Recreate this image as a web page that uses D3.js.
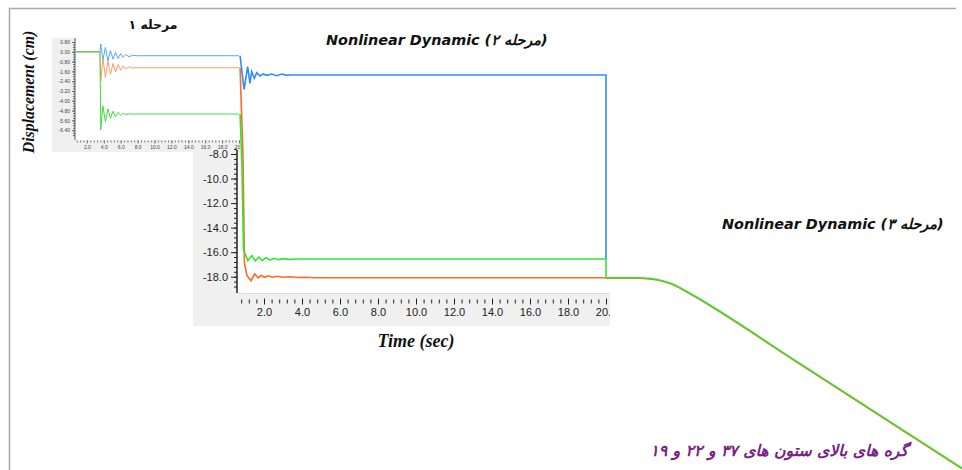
<!DOCTYPE html>
<html>
<head>
<meta charset="utf-8">
<script src="https://cdn.jsdelivr.net/npm/d3@7"></script>
<style>
  body { margin: 0; background: #fff; }
  svg { display: block; }
</style>
</head>
<body>
<div id="chart"></div>
<script>
// stage 1 (مرحله ۱) - time (s) and displacement (cm)
const t1 = [0, 3.55, 3.64, 3.89, 4.19, 4.49, 4.79, 5.09, 5.39, 5.69, 5.99, 6.29, 6.59, 6.99, 7.39, 7.89, 20.0];
const blue1 = [0, 0, 0.64, -0.7, 0.35, -0.75, 0.1, -0.6, -0.05, -0.55, -0.15, -0.45, -0.22, -0.4, -0.28, -0.32, -0.32];
const orange1 = [0, 0, -2.45, -0.5, -2.1, -0.75, -1.85, -0.95, -1.65, -1.05, -1.5, -1.15, -1.4, -1.22, -1.33, -1.3, -1.3];
const green1 = [0, 0, -6.38, -4.42, -5.7, -4.65, -5.45, -4.85, -5.3, -4.95, -5.2, -5.02, -5.13, -5.06, -5.09, -5.08, -5.08];

// stage 2 (Nonlinear Dynamic)
const tBlue2 = [0.74, 0.95, 1.14, 1.26, 1.35, 1.49, 1.62, 1.79, 1.96, 2.14, 2.41, 2.67, 2.94, 3.2, 3.37, 20.0, 20.0];
const blue2 = [0.0, -2.73, -0.885, -2.24, -1.29, -1.83, -1.37, -1.64, -1.48, -1.59, -1.48, -1.62, -1.48, -1.59, -1.56, -1.56, -16.56];
const tOrange2 = [0.74, 0.89, 0.97, 1.1, 1.31, 1.51, 1.69, 1.85, 2.03, 2.24, 2.45, 2.71, 3.02, 3.38, 3.8, 4.21, 4.63, 20.0];
const orange2 = [-0.97, -8, -16.9, -17.9, -18.33, -17.78, -18.1, -17.89, -18.05, -17.93, -18.04, -17.97, -18.05, -18.0, -18.06, -18.04, -18.08, -18.08];
const tGreen2 = [0.74, 0.84, 0.92, 1.15, 1.36, 1.54, 1.72, 1.91, 2.11, 2.31, 2.53, 2.76, 3.02, 3.33, 3.69, 20.0, 20.0];
const green2 = [-4.74, -9.0, -15.8, -16.7, -16.28, -16.72, -16.4, -16.68, -16.45, -16.64, -16.5, -16.61, -16.53, -16.59, -16.56, -16.56, -18.08];

// stage 3 (Nonlinear Dynamic)
const t3 = [0, 1.5, 2.3, 2.9, 3.45, 4.2, 9.8, 18.0];
const green3 = [-18.08, -18.09, -18.16, -18.35, -18.65, -19.31, -25.07, -33.6];
const orange3 = [-18.12, -18.13, -18.2, -18.39, -18.69, -19.36, -25.12, -33.65];

// tick labels
const y1Ticks = [0.8, 0, -0.8, -1.6, -2.4, -3.2, -4.0, -4.8, -5.6, -6.4];
const x1Ticks = [2, 4, 6, 8, 10, 12, 14, 16, 18, 20];
const y2Ticks = [-8, -10, -12, -14, -16, -18];
const x2Ticks = [2, 4, 6, 8, 10, 12, 14, 16, 18, 20];

const svg = d3.select("#chart").append("svg")
  .attr("width", 962)
  .attr("height", 470);

// outer frame
svg.append("path")
  .attr("d", "M9.5,470 V8.5 H956")
  .attr("fill", "none")
  .attr("stroke", "#a8a8a8")
  .attr("stroke-width", 1.5);

// scales
const x1 = d3.scaleLinear().domain([0, 20]).range([70, 239]);
const y1 = d3.scaleLinear().domain([0.8, -6.4]).range([42, 130.2]);
const x2 = d3.scaleLinear().domain([0, 20]).range([226, 606]);
const y2 = d3.scaleLinear().domain([-8, -18]).range([154, 276.7]);
const x3 = d3.scaleLinear().domain([0, 18]).range([606, 962]);

const defs = svg.append("defs");
defs.append("clipPath").attr("id", "clip1").append("rect")
  .attr("x", 75).attr("y", 30).attr("width", 166).attr("height", 110);
defs.append("clipPath").attr("id", "clip1x").append("rect")
  .attr("x", 76).attr("y", 138).attr("width", 164).attr("height", 14);
defs.append("clipPath").attr("id", "clip2").append("rect")
  .attr("x", 238).attr("y", 40).attr("width", 372).attr("height", 253);
defs.append("clipPath").attr("id", "clip2x").append("rect")
  .attr("x", 238).attr("y", 293).attr("width", 372).attr("height", 33);

// gray axis bands
const band = "#f0f0f0";
svg.append("rect").attr("x", 52).attr("y", 38).attr("width", 23).attr("height", 114).attr("fill", band);
svg.append("rect").attr("x", 52).attr("y", 140).attr("width", 188).attr("height", 12).attr("fill", band);
svg.append("rect").attr("x", 193).attr("y", 152).attr("width", 44).attr("height", 174).attr("fill", band);
svg.append("rect").attr("x", 193).attr("y", 293).attr("width", 417).attr("height", 33).attr("fill", band);
svg.append("line").attr("x1", 237).attr("x2", 610).attr("y1", 293.5).attr("y2", 293.5)
  .attr("stroke", "#dcdcdc");

// ---- stage 1 axes
const g1 = svg.append("g");
const y1Minor = g1.append("g").attr("transform", "translate(75,0)")
  .call(d3.axisLeft(y1).tickValues(d3.range(0.8, -7.0, -0.2)).tickSize(2).tickFormat(""));
y1Minor.select(".domain").remove();
const y1Axis = g1.append("g").attr("transform", "translate(75,0)")
  .call(d3.axisLeft(y1).tickValues(y1Ticks).tickSize(3).tickPadding(2).tickFormat(d => d.toFixed(2)));
y1Axis.select(".domain").remove();
g1.selectAll("text").attr("font-size", 5).attr("font-family", "Liberation Sans, Arial, sans-serif").attr("fill", "#444");
g1.selectAll("line").attr("stroke", "#666");
g1.append("line").attr("x1", 75).attr("x2", 75).attr("y1", 38).attr("y2", 140)
  .attr("stroke", "#555").attr("stroke-width", 1);

const g1x = svg.append("g").attr("clip-path", "url(#clip1x)");
const x1Minor = g1x.append("g").attr("transform", "translate(0,140.5)")
  .call(d3.axisBottom(x1).tickValues(d3.range(0.4, 20.1, 0.4)).tickSize(2).tickFormat(""));
x1Minor.select(".domain").remove();
const x1Axis = g1x.append("g").attr("transform", "translate(0,140.5)")
  .call(d3.axisBottom(x1).tickValues(x1Ticks).tickSize(3).tickPadding(1.5).tickFormat(d => d.toFixed(1)));
x1Axis.select(".domain").remove();
g1x.selectAll("text").attr("font-size", 5).attr("font-family", "Liberation Sans, Arial, sans-serif").attr("fill", "#444");
g1x.selectAll("line").attr("stroke", "#777");

// ---- stage 2 axes
const g2 = svg.append("g");
const y2Minor = g2.append("g").attr("transform", "translate(237,0)")
  .call(d3.axisLeft(y2).tickValues(d3.range(-7.6, -18.9, -0.4)).tickSize(3).tickFormat(""));
y2Minor.select(".domain").remove();
const y2Axis = g2.append("g").attr("transform", "translate(237,0)")
  .call(d3.axisLeft(y2).tickValues(y2Ticks).tickSize(6).tickPadding(3).tickFormat(d => d.toFixed(1)));
y2Axis.select(".domain").remove();
g2.append("line").attr("x1", 237).attr("x2", 237).attr("y1", 150).attr("y2", 293)
  .attr("stroke", "#222").attr("stroke-width", 1.5);

const g2x = svg.append("g").attr("clip-path", "url(#clip2x)");
const x2Minor = g2x.append("g").attr("transform", "translate(0,299.5)")
  .call(d3.axisBottom(x2).tickValues(d3.range(0.4, 20.1, 0.4)).tickSize(4).tickFormat(""));
x2Minor.select(".domain").remove();
const x2Axis = g2x.append("g").attr("transform", "translate(0,298.5)")
  .call(d3.axisBottom(x2).tickValues(x2Ticks).tickSize(6).tickPadding(4).tickFormat(d => d.toFixed(1)));
x2Axis.select(".domain").remove();

[g2, g2x].forEach(g => {
  g.selectAll("text").attr("font-size", 11).attr("font-family", "Liberation Sans, Arial, sans-serif").attr("fill", "#222");
  g.selectAll(".tick line").attr("stroke", "#222");
});

// ---- lines
const zip = (ts, vs) => ts.map((t, i) => [t, vs[i]]);
const line1 = d3.line().x(d => x1(d[0])).y(d => y1(d[1]));
const line2 = d3.line().x(d => x2(d[0])).y(d => y2(d[1]));
const line3 = d3.line().x(d => x3(d[0])).y(d => y2(d[1])).curve(d3.curveMonotoneX);

const p1 = svg.append("g").attr("clip-path", "url(#clip1)");
[[blue1, "#5aa6ff"], [orange1, "#ff9b6e"], [green1, "#40dd40"]].forEach(([vals, c]) => {
  p1.append("path").datum(zip(t1, vals))
    .attr("d", line1).attr("fill", "none").attr("stroke", c).attr("stroke-width", 1);
});

const p2 = svg.append("g").attr("clip-path", "url(#clip2)");
p2.append("path").datum(zip(tBlue2, blue2))
  .attr("d", line2).attr("fill", "none").attr("stroke", "#2f8cff").attr("stroke-width", 1.6);
p2.append("path").datum(zip(tOrange2, orange2))
  .attr("d", line2).attr("fill", "none").attr("stroke", "#ff6a1f").attr("stroke-width", 1.6);
p2.append("path").datum(zip(tGreen2, green2))
  .attr("d", line2).attr("fill", "none").attr("stroke", "#33e533").attr("stroke-width", 1.6);

const p3 = svg.append("g");
p3.append("path").datum(zip(t3, orange3))
  .attr("d", line3).attr("fill", "none").attr("stroke", "#ff6a1f").attr("stroke-width", 1.6);
p3.append("path").datum(zip(t3, green3))
  .attr("d", line3).attr("fill", "none").attr("stroke", "#33e533").attr("stroke-width", 1.6);

// ---- titles
const sansB = "DejaVu Sans, Verdana, sans-serif";
const serifB = "Liberation Serif, Times New Roman, serif";

svg.append("text").attr("x", 153).attr("y", 29)
  .attr("text-anchor", "middle").attr("font-family", sansB)
  .attr("font-weight", "bold").attr("font-size", 12.5).attr("fill", "#111")
  .text("مرحله ۱");

svg.append("text")
  .attr("transform", "translate(34,92) rotate(-90)")
  .attr("text-anchor", "middle").attr("font-family", serifB)
  .attr("font-weight", "bold").attr("font-style", "italic").attr("font-size", 15.8).attr("fill", "#111")
  .text("Displacement (cm)");

svg.append("text").attr("x", 326).attr("y", 45)
  .attr("font-family", sansB).attr("font-weight", "bold").attr("font-style", "italic")
  .attr("font-size", 14.4).attr("fill", "#111")
  .text("Nonlinear Dynamic  (مرحله ۲)");

svg.append("text").attr("x", 722).attr("y", 229)
  .attr("font-family", sansB).attr("font-weight", "bold").attr("font-style", "italic")
  .attr("font-size", 14.4).attr("fill", "#111")
  .text("Nonlinear Dynamic  (مرحله ۳)");

svg.append("text").attr("x", 416).attr("y", 347)
  .attr("text-anchor", "middle").attr("font-family", serifB)
  .attr("font-weight", "bold").attr("font-style", "italic").attr("font-size", 18).attr("fill", "#111")
  .text("Time (sec)");

svg.append("text").attr("x", 908).attr("y", 456)
  .attr("text-anchor", "end").attr("font-family", sansB)
  .attr("font-weight", "bold").attr("font-style", "italic").attr("font-size", 15.7).attr("fill", "#7a2187")
  .text("گره های بالای ستون های ۳۷ و ۲۲ و ۱۹");
</script>
</body>
</html>
